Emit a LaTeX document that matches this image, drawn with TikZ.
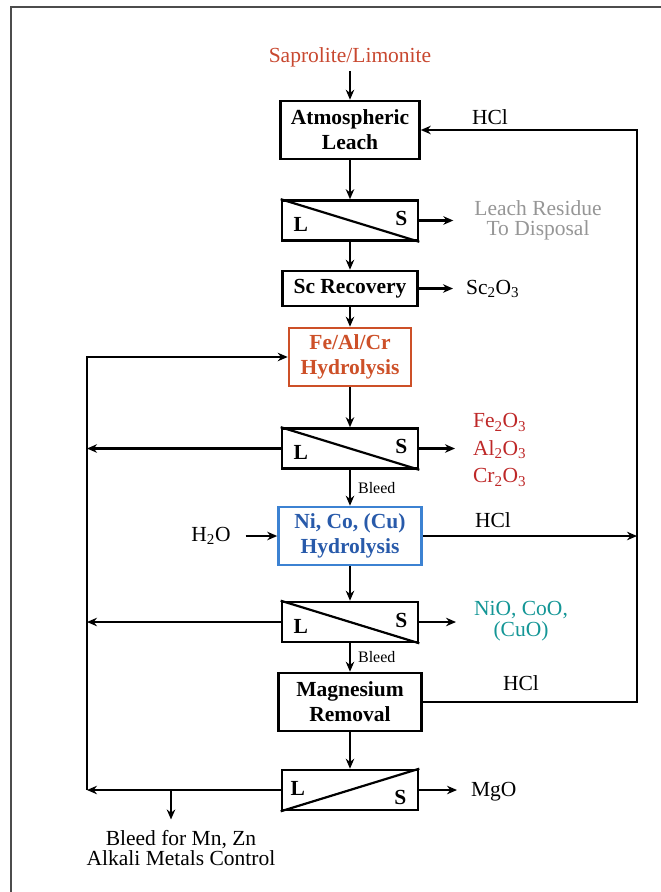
\documentclass[tikz,border=0pt]{standalone}
\usepackage{fontspec}
\setmainfont{Liberation Serif}
\usepackage{tikz}
\usetikzlibrary{positioning,arrows.meta}
\usepackage{xcolor}
\definecolor{orered}{RGB}{200,72,48}
\definecolor{fered}{RGB}{205,80,40}
\definecolor{oxred}{RGB}{190,40,40}
\definecolor{niblue}{RGB}{60,130,210}
\definecolor{nitext}{RGB}{40,90,170}
\definecolor{niteal}{RGB}{20,150,150}
\definecolor{resgray}{RGB}{150,150,150}

\begin{document}
\begin{tikzpicture}[x=1pt, y=-1pt, >={Stealth[length=10pt,width=8.5pt]}, line width=2.2pt,
    font=\fontsize{21.5}{20}\selectfont]
  \tikzstyle{block}=[rectangle, draw, line width=2.6pt, align=center, inner sep=0pt,
    font=\fontsize{21.5}{25}\selectfont\bfseries]
  \tikzstyle{sepbox}=[rectangle, draw, line width=2.6pt, minimum width=136pt, minimum height=40pt]
  \tikzstyle{tag}=[inner sep=0pt, align=center]
  \tikzstyle{small}=[inner sep=0pt, font=\fontsize{16}{18}\selectfont]
  \tikzstyle{ls}=[inner sep=0pt, font=\fontsize{21.5}{25}\selectfont\bfseries]
  \useasboundingbox (0,0) rectangle (661,892);
  \draw[line width=2pt, black!70] (11,892) -- (11,7) -- (661,7);

  % main chain
  \node[tag, text=orered] (ore) at (350,57) {Saprolite/Limonite};
  \node[block, minimum width=139pt, minimum height=58pt] (load) at (350,130) {Atmospheric\\Leach};
  \node[sepbox, below of=load, node distance=90.5pt] (ls1) {};
  \node[block, below of=ls1, node distance=68pt, minimum width=135pt, minimum height=35pt] (sc) {Sc Recovery};
  \node[block, below of=sc, node distance=68.5pt, minimum width=122pt, minimum height=58pt,
    draw=fered, text=fered] (fe) {Fe/Al/Cr\\Hydrolysis};
  \node[sepbox, below of=fe, node distance=91.5pt] (ls2) {};
  \node[block, below of=ls2, node distance=87.5pt, minimum width=143pt, minimum height=58pt,
    draw=niblue, text=nitext] (ni) {Ni, Co, (Cu)\\Hydrolysis};
  \node[sepbox, below of=ni, node distance=86pt] (ls3) {};
  \node[block, below of=ls3, node distance=80pt, minimum width=143pt, minimum height=58pt] (mg) {Magnesium\\Removal};
  \node[sepbox, below of=mg, node distance=88pt] (ls4) {};

  % separators
  \foreach \n in {ls1,ls2,ls3}{
    \draw[line width=2.2pt] (\n.north west) -- (\n.south east);
    \node[ls] (\n-l) at ([xshift=20pt,yshift=-4pt]\n.west) {L};
    \node[ls] (\n-s) at ([xshift=-18pt,yshift=2pt]\n.east) {S};
  }
  \draw[line width=2.2pt] (ls4.south west) -- (ls4.north east);
  \node[ls] (ls4-l) at ([xshift=17pt,yshift=2pt]ls4.west) {L};
  \node[ls] (ls4-s) at ([xshift=-19pt,yshift=-7pt]ls4.east) {S};

  % side streams
  \node[tag, text=resgray] (res) at (538,220) {Leach Residue\\To Disposal};
  \node[tag, anchor=west] (sco) at (465,289) {Sc\textsubscript{2}O\textsubscript{3}};
  \node[tag, anchor=west, align=left, text=oxred, font=\fontsize{21.5}{27.5}\selectfont] (oxides) at (472,450)
    {Fe\textsubscript{2}O\textsubscript{3}\\Al\textsubscript{2}O\textsubscript{3}\\Cr\textsubscript{2}O\textsubscript{3}};
  \node[tag, text=niteal, font=\fontsize{21.5}{21}\selectfont] (nio) at (521,621) {NiO, CoO,\\(CuO)};
  \node[tag, anchor=west] (mgo) at (470,792) {MgO};
  \node[tag] (h2o) at (211,536) {H\textsubscript{2}O};
  \node[tag] (hcl1) at (490,117) {HCl};
  \node[tag] (hcl2) at (493,520) {HCl};
  \node[tag] (hcl3) at (521,683) {HCl};
  \node[tag, font=\fontsize{21.5}{19.5}\selectfont] (bleedtxt) at (181,848) {Bleed for Mn, Zn\\Alkali Metals Control};

  \coordinate (lx) at (87,0);
  \coordinate (rx) at (637,0);
  \coordinate (tap) at (171,0);

  % connectors
  \draw[->, shorten <=3pt] (ore) -- (load);
  \draw[->] (load) -- (ls1);
  \draw[->] (ls1) -- (sc);
  \draw[->] (sc) -- (fe);
  \draw[->] (fe) -- (ls2);
  \draw[->] (ls2) -- node[small, right=7pt] (bleed1) {Bleed} (ni);
  \draw[->] (ni) -- (ls3);
  \draw[->] (ls3) -- node[small, right=7pt] (bleed2) {Bleed} (mg);
  \draw[->] (mg) -- (ls4);

  \draw[->, shorten >=20pt] (ls1.east) -- (ls1.east -| res.west);
  \draw[->, shorten >=12pt] (sc.east) -- (sc.east -| sco.west);
  \draw[->, shorten >=17pt] (ls2.east) -- (ls2.east -| oxides.west);
  \draw[->, shorten >=17pt] (ls3.east) -- (ls3.east -| nio.west);
  \draw[->, shorten >=13pt] (ls4.east) -- (ls4.east -| mgo.west);
  \draw[->, shorten <=14pt] (h2o) -- (ni);

  \draw[->] (ls2.west) -- (ls2.west -| lx);
  \draw[->] (ls3.west) -- (ls3.west -| lx);
  \draw[->] (ls4.west) -- (ls4.west -| lx);
  \draw[->] (ls4.west -| lx) |- (fe.west);
  \draw[->, shorten >=10pt] (ls4.west -| tap) -- (tap |- bleedtxt.north);

  \draw[->] (ni.east) -- (ni.east -| rx);
  \draw[->] (mg.east) -- (mg.east -| rx) |- (load.east);
\end{tikzpicture}
\end{document}
